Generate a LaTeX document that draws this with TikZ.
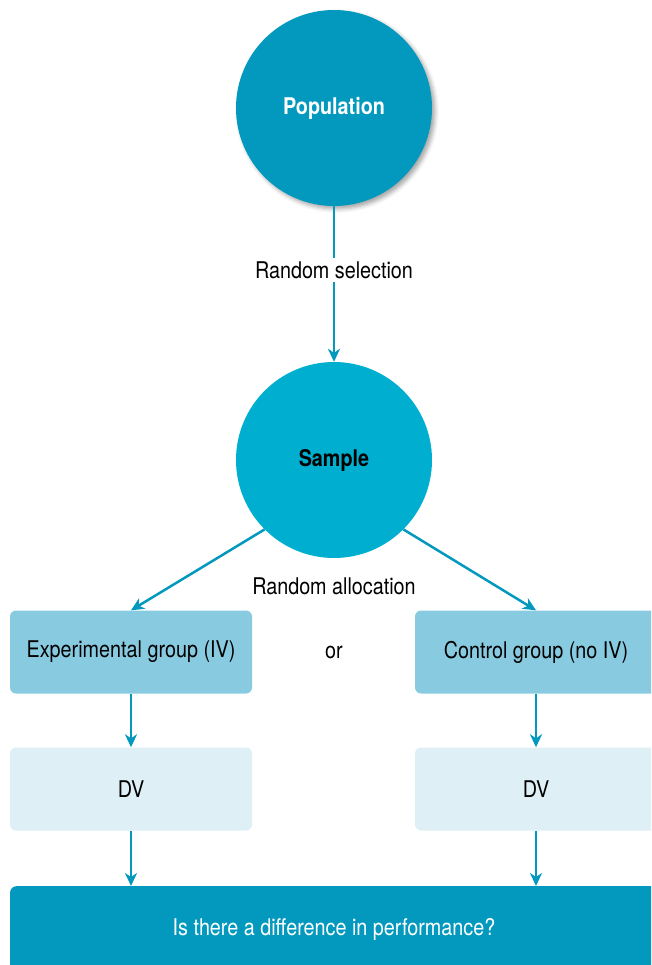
\documentclass[tikz,border=0pt]{standalone}
\usepackage{fontspec}
\setmainfont{TeX Gyre Heros}[FakeStretch=0.86]
\usetikzlibrary{arrows.meta,shadows.blur}
\definecolor{popblue}{HTML}{0399BE}
\definecolor{sampblue}{HTML}{00AFCF}
\definecolor{grpblue}{HTML}{88CBE0}
\definecolor{dvblue}{HTML}{DEEFF6}
\begin{document}
\begin{tikzpicture}[x=1pt,y=-1pt,
  every node/.style={font=\fontsize{23}{27}\selectfont},
  bigcircle/.style={circle,minimum size=196pt,inner sep=0pt},
  groupbox/.style={rectangle,rounded corners=6pt,minimum width=242pt,minimum height=83pt,inner sep=0pt,fill=grpblue},
  dvbox/.style={rectangle,rounded corners=6pt,minimum width=242pt,minimum height=83pt,inner sep=0pt,fill=dvblue},
  flow/.style={draw=popblue,line width=2.5pt,-{Stealth[length=13pt,width=12pt,inset=4pt]}},
  plain/.style={draw=popblue,line width=2.5pt}]
\useasboundingbox (0,0) rectangle (651,965);
\begin{scope}
\clip (0,0) rectangle (651,965);
% circles
\node[bigcircle,fill=popblue,blur shadow={shadow xshift=3pt,shadow yshift=-3pt,shadow opacity=35,shadow blur radius=4pt},text=white,font=\fontsize{23}{27}\selectfont\bfseries] (pop) at (334,108) {Population};
\node[bigcircle,fill=sampblue,font=\fontsize{23}{27}\selectfont\bfseries] (samp) at (334,460) {Sample};
% labels between stages
\node (sel) at (334,270) {Random selection};
\node (alloc) at (334,586) {Random allocation};
\node (or) at (334,652) {or};
% groups
\node[groupbox] (exp) at (131,652) {Experimental group (IV)};
\node[groupbox] (ctl) at (536,652) {Control group (no IV)};
\node[dvbox] (dv1) at (131,789) {DV};
\node[dvbox] (dv2) at (536,789) {DV};
% outcome bar
\node[rectangle,rounded corners=6pt,fill=popblue,minimum width=680pt,minimum height=100pt,inner sep=0pt,anchor=north west] (out) at (10,886) {};
\node[text=white] (q) at (334,929) {Is there a difference in performance?};
% connectors
\draw[plain] (pop.south) -- (sel.north);
\draw[flow] (sel.south) -- (samp.north);
\draw[flow] (samp.-135) -- (exp.north);
\draw[flow] (samp.-45) -- (ctl.north);
\draw[flow] (exp.south) -- (dv1.north);
\draw[flow] (ctl.south) -- (dv2.north);
\draw[flow] (dv1.south) -- (dv1.south |- out.north);
\draw[flow] (dv2.south) -- (dv2.south |- out.north);
\end{scope}
\end{tikzpicture}
\end{document}
